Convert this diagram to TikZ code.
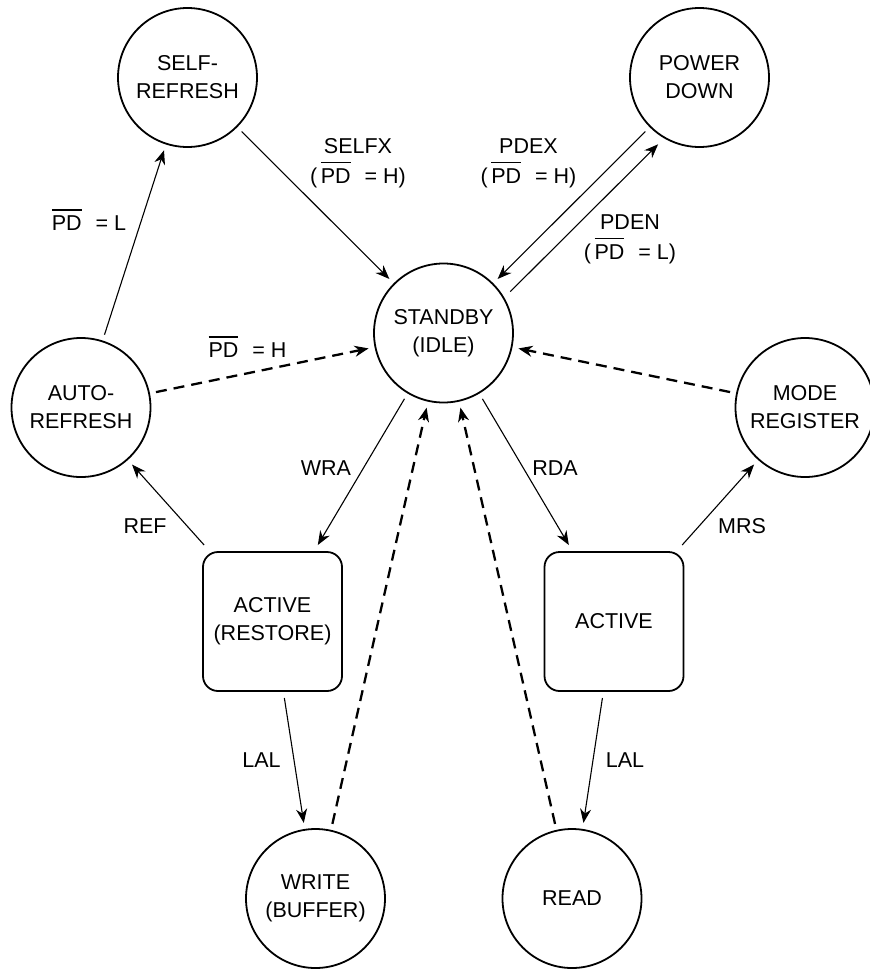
\documentclass[tikz,border=0pt]{standalone}
\usepackage{fontspec}
\setmainfont{Liberation Sans}
\usetikzlibrary{arrows.meta,calc}
\newcommand\statefont{\fontsize{21.5pt}{28pt}\selectfont}
\newcommand\ovl[1]{\leavevmode\setbox0\hbox{#1}\rlap{\rule[\dimexpr\ht0+5pt\relax]{\wd0}{1.3pt}}\box0}
\begin{document}
\begin{tikzpicture}[x=1pt,y=-1pt,
 state/.style={circle,draw,line width=1.8pt,minimum size=139pt,inner sep=0pt,outer sep=7pt,align=center,font=\statefont},
 box/.style={rectangle,rounded corners=15pt,draw,line width=1.8pt,minimum size=139pt,inner sep=0pt,outer sep=7pt,align=center,font=\statefont},
 lbl/.style={inner sep=0pt,align=center,font=\statefont},
 tr/.style={line width=1.1pt,-{Stealth[length=14pt,width=11pt,inset=4.5pt]}},
 dtr/.style={line width=2.3pt,dash pattern=on 11pt off 7pt,-{Stealth[length=14pt,width=11pt,inset=4.5pt]}},
]
\useasboundingbox (0,0) rectangle (870,970);
% states
\node[state] (self) at (187.5,77.5) {SELF-\\REFRESH};
\node[state] (power) at (699.5,77.5) {POWER\\DOWN};
\node[state] (standby) at (443.5,333) {STANDBY\\(IDLE)};
\node[state] (auto) at (81,407.5) {AUTO-\\REFRESH};
\node[state] (mode) at (805,407.5) {MODE\\REGISTER};
\node[box] (actr) at (272.5,621.5) {ACTIVE\\(RESTORE)};
\node[box] (act) at (614,621.5) {ACTIVE};
\node[state] (write) at (315.5,898.5) {WRITE\\(BUFFER)};
\node[state] (read) at (572,898.5) {READ};
% connectors
\draw[tr] (auto) -- (self);
\draw[tr] (self) -- (standby);
\draw[tr] (power) -- (standby);
\draw[tr] ([shift={(12.7,12.7)}]standby.45) -- ([shift={(12.7,12.7)}]power.225);
\draw[dtr] (auto) -- (standby);
\draw[dtr] (mode) -- (standby);
\draw[tr] (standby) -- (actr);
\draw[tr] (standby) -- (act);
\draw[tr] (actr) -- (auto);
\draw[tr] (act) -- (mode);
\draw[tr] (actr) -- (write);
\draw[tr] (act) -- (read);
\draw[dtr] (write) -- (standby);
\draw[dtr] (read) -- (standby);
% labels
\node[lbl] (lselfx) at (358,163) {SELFX\\[2pt](\,\ovl{PD}\hspace{14pt}= H)};
\node[lbl] (lpdex) at (528.5,163) {PDEX\\[2pt](\,\ovl{PD}\hspace{14pt}= H)};
\node[lbl] (lpden) at (630,239) {PDEN\\[2pt](\,\ovl{PD}\hspace{14pt}= L)};
\node[lbl] (lpdl) at (89,220) {\ovl{PD}\hspace{14pt}= L};
\node[lbl] (lpdh) at (247.5,347) {\ovl{PD}\hspace{14pt}= H};
\node[lbl] (lwra) at (326,468) {WRA};
\node[lbl] (lrda) at (555,468) {RDA};
\node[lbl] (lref) at (145,526) {REF};
\node[lbl] (lmrs) at (742,526) {MRS};
\node[lbl] (llal1) at (261.5,760.5) {LAL};
\node[lbl] (llal2) at (625,760.5) {LAL};
\end{tikzpicture}
\end{document}
